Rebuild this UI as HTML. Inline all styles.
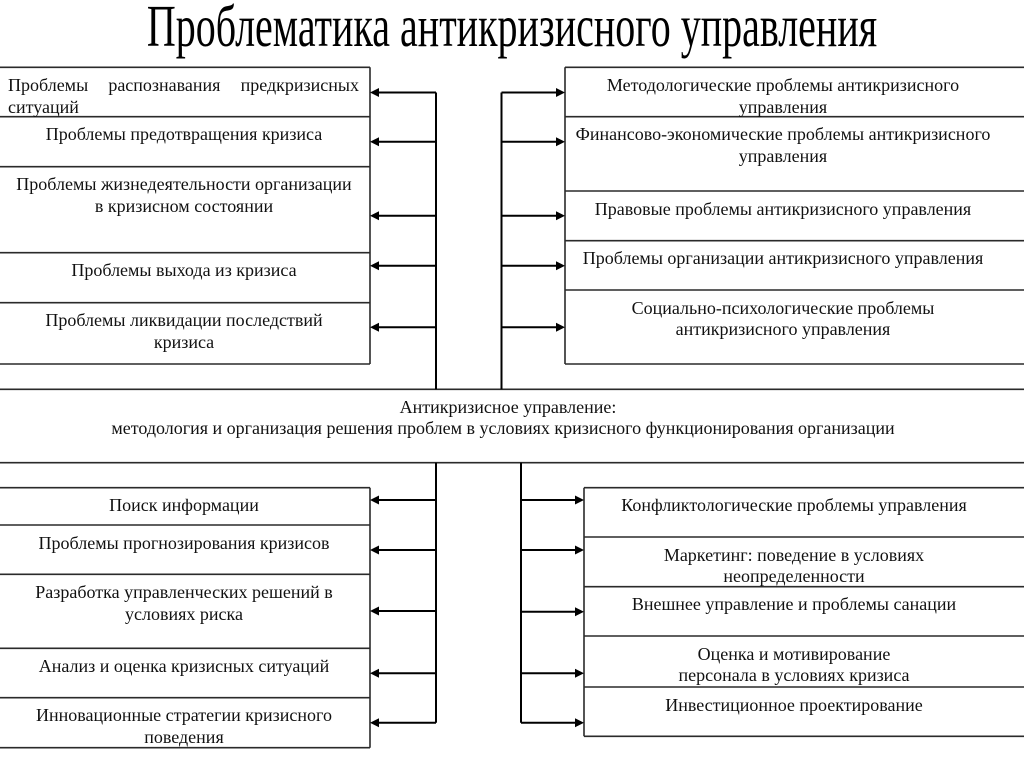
<!DOCTYPE html>
<html>
<head>
<meta charset="utf-8">
<style>
  html, body { margin:0; padding:0; background:#fff; }
  body { width:1024px; height:767px; position:relative; overflow:hidden;
         font-family:"Liberation Serif", "Noto Serif CJK SC", serif; color:#111; }
  svg { position:absolute; left:0; top:0; }
  .t { position:absolute; font-size:18px; line-height:21.7px; white-space:nowrap; text-align:center; }
  .L { left:0; width:368px; }
  .R { left:565px; width:436px; }
  .LR { left:584px; width:420px; }
  .title { position:absolute; left:0; width:1024px; text-align:center; font-size:40px; line-height:40px;
           top:13.2px; transform:scaleY(1.48); transform-origin:50% 33.5px; white-space:nowrap; color:#000; }
</style>
</head>
<body>
<div class="title">Проблематика антикризисного управления</div>

<svg width="1024" height="767" viewBox="0 0 1024 767">
  <g stroke="#2a2a2a" stroke-width="1.6" fill="none">
    <line x1="0" y1="67.3" x2="370" y2="67.3"/>
    <line x1="0" y1="116.7" x2="370" y2="116.7"/>
    <line x1="0" y1="166.7" x2="370" y2="166.7"/>
    <line x1="0" y1="252.7" x2="370" y2="252.7"/>
    <line x1="0" y1="302.7" x2="370" y2="302.7"/>
    <line x1="0" y1="364" x2="370" y2="364"/>
    <line x1="370" y1="67.3" x2="370" y2="364"/>
    <line x1="565" y1="67.3" x2="1024" y2="67.3"/>
    <line x1="565" y1="116.7" x2="1024" y2="116.7"/>
    <line x1="565" y1="191" x2="1024" y2="191"/>
    <line x1="565" y1="240.7" x2="1024" y2="240.7"/>
    <line x1="565" y1="290" x2="1024" y2="290"/>
    <line x1="565" y1="364" x2="1024" y2="364"/>
    <line x1="565" y1="67.3" x2="565" y2="364"/>
    <line x1="0" y1="389.3" x2="1024" y2="389.3"/>
    <line x1="0" y1="462.7" x2="1024" y2="462.7"/>
    <line x1="0" y1="487.7" x2="370" y2="487.7"/>
    <line x1="0" y1="525" x2="370" y2="525"/>
    <line x1="0" y1="574.3" x2="370" y2="574.3"/>
    <line x1="0" y1="648.3" x2="370" y2="648.3"/>
    <line x1="0" y1="697.7" x2="370" y2="697.7"/>
    <line x1="0" y1="747.7" x2="370" y2="747.7"/>
    <line x1="370" y1="487.7" x2="370" y2="747.7"/>
    <line x1="584" y1="487.7" x2="1024" y2="487.7"/>
    <line x1="584" y1="537" x2="1024" y2="537"/>
    <line x1="584" y1="586.7" x2="1024" y2="586.7"/>
    <line x1="584" y1="636" x2="1024" y2="636"/>
    <line x1="584" y1="687" x2="1024" y2="687"/>
    <line x1="584" y1="736.3" x2="1024" y2="736.3"/>
    <line x1="584" y1="487.7" x2="584" y2="736.3"/>
  </g>

  <g stroke="#000" stroke-width="2" fill="none">
    <line x1="436" y1="92.5" x2="436" y2="389.3"/>
    <line x1="377" y1="92.5" x2="436" y2="92.5"/>
    <line x1="377" y1="141.7" x2="436" y2="141.7"/>
    <line x1="377" y1="215.7" x2="436" y2="215.7"/>
    <line x1="377" y1="265.7" x2="436" y2="265.7"/>
    <line x1="377" y1="327.3" x2="436" y2="327.3"/>
    <line x1="501.5" y1="92.5" x2="501.5" y2="389.3"/>
    <line x1="501.5" y1="92.5" x2="558" y2="92.5"/>
    <line x1="501.5" y1="141.7" x2="558" y2="141.7"/>
    <line x1="501.5" y1="215.7" x2="558" y2="215.7"/>
    <line x1="501.5" y1="265.7" x2="558" y2="265.7"/>
    <line x1="501.5" y1="327.3" x2="558" y2="327.3"/>
    <line x1="436" y1="462.7" x2="436" y2="722.7"/>
    <line x1="377" y1="500" x2="436" y2="500"/>
    <line x1="377" y1="550" x2="436" y2="550"/>
    <line x1="377" y1="611" x2="436" y2="611"/>
    <line x1="377" y1="673.3" x2="436" y2="673.3"/>
    <line x1="377" y1="722.7" x2="436" y2="722.7"/>
    <line x1="521" y1="462.7" x2="521" y2="722.7"/>
    <line x1="521" y1="500" x2="577" y2="500"/>
    <line x1="521" y1="550" x2="577" y2="550"/>
    <line x1="521" y1="611.7" x2="577" y2="611.7"/>
    <line x1="521" y1="673.3" x2="577" y2="673.3"/>
    <line x1="521" y1="722.7" x2="577" y2="722.7"/>
  </g>

  <g fill="#000">
    <polygon points="370,92.5 379,88 379,97"/>
    <polygon points="370,141.7 379,137.2 379,146.2"/>
    <polygon points="370,215.7 379,211.2 379,220.2"/>
    <polygon points="370,265.7 379,261.2 379,270.2"/>
    <polygon points="370,327.3 379,322.8 379,331.8"/>
    <polygon points="565,92.5 556,88 556,97"/>
    <polygon points="565,141.7 556,137.2 556,146.2"/>
    <polygon points="565,215.7 556,211.2 556,220.2"/>
    <polygon points="565,265.7 556,261.2 556,270.2"/>
    <polygon points="565,327.3 556,322.8 556,331.8"/>
    <polygon points="370,500 379,495.5 379,504.5"/>
    <polygon points="370,550 379,545.5 379,554.5"/>
    <polygon points="370,611 379,606.5 379,615.5"/>
    <polygon points="370,673.3 379,668.8 379,677.8"/>
    <polygon points="370,722.7 379,718.2 379,727.2"/>
    <polygon points="584,500 575,495.5 575,504.5"/>
    <polygon points="584,550 575,545.5 575,554.5"/>
    <polygon points="584,611.7 575,607.2 575,616.2"/>
    <polygon points="584,673.3 575,668.8 575,677.8"/>
    <polygon points="584,722.7 575,718.2 575,727.2"/>
  </g>
</svg>

<div class="t" style="left:8px; width:351px; top:75px; text-align:left;">
  <div style="display:flex; justify-content:space-between;"><span>Проблемы</span><span>распознавания</span><span>предкризисных</span></div>
  <div>ситуаций</div>
</div>
<div class="t L" style="top:124.4px;">Проблемы предотвращения кризиса</div>
<div class="t L" style="top:174.4px;">Проблемы жизнедеятельности организации<br>в кризисном состоянии</div>
<div class="t L" style="top:260.4px;">Проблемы выхода из кризиса</div>
<div class="t L" style="top:310.4px;">Проблемы ликвидации последствий<br>кризиса</div>

<div class="t R" style="top:75px;">Методологические проблемы антикризисного<br>управления</div>
<div class="t R" style="top:124.4px;">Финансово-экономические проблемы антикризисного<br>управления</div>
<div class="t R" style="top:198.7px;">Правовые проблемы антикризисного управления</div>
<div class="t R" style="top:248.4px;">Проблемы организации антикризисного управления</div>
<div class="t R" style="top:297.7px;">Социально-психологические проблемы<br>антикризисного управления</div>

<div class="t" style="left:0; width:1016px; top:396.5px;">Антикризисное управление:</div>
<div class="t" style="left:0; width:1006px; top:418.2px;">методология и организация решения проблем в условиях кризисного функционирования организации</div>

<div class="t L" style="top:495.4px;">Поиск информации</div>
<div class="t L" style="top:532.7px;">Проблемы прогнозирования кризисов</div>
<div class="t L" style="top:582px;">Разработка управленческих решений в<br>условиях риска</div>
<div class="t L" style="top:656px;">Анализ и оценка кризисных ситуаций</div>
<div class="t L" style="top:705.4px;">Инновационные стратегии кризисного<br>поведения</div>

<div class="t LR" style="top:495.4px;">Конфликтологические проблемы управления</div>
<div class="t LR" style="top:544.7px;">Маркетинг: поведение в условиях<br>неопределенности</div>
<div class="t LR" style="top:594.4px;">Внешнее управление и проблемы санации</div>
<div class="t LR" style="top:643.7px;">Оценка и мотивирование<br>персонала в условиях кризиса</div>
<div class="t LR" style="top:694.7px;">Инвестиционное проектирование</div>
</body>
</html>
